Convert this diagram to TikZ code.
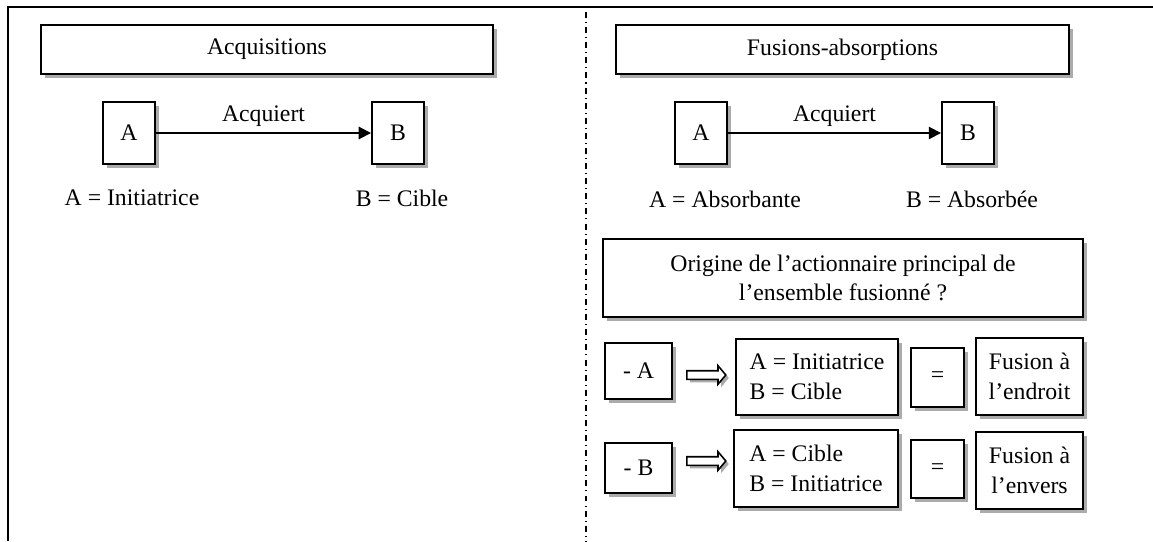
\documentclass[tikz,border=0pt]{standalone}
\usepackage{fontspec}
\setmainfont{Liberation Serif}
\usetikzlibrary{arrows.meta, positioning, shadows, shapes.arrows}

\begin{document}
\begin{tikzpicture}[
		x=0.02cm, y=-0.02cm,
		box/.style = {draw, line width=1.1pt, fill=white, rectangle, inner sep=2pt,
			drop shadow={shadow xshift=0.075cm, shadow yshift=-0.075cm, fill=black!33, opacity=1},
			font=\fontsize{13.5}{17}\selectfont},
		txt/.style = {font=\fontsize{13.5}{17}\selectfont},
		bigarrow/.style = {single arrow, draw, line width=0.9pt, fill=white,
			inner xsep=0pt, inner ysep=0.07cm, minimum height=0.78cm,
			single arrow head extend=0.1cm, single arrow tip angle=100,
			drop shadow={shadow xshift=0.06cm, shadow yshift=-0.06cm, fill=black!33, opacity=1}}
	]

	\useasboundingbox (0,0) rectangle (1153,541);

	% cadre
	\draw[line width=1.1pt] (8,541) -- (8,7) -- (1153,7);
	\draw[line width=0.8pt, dash pattern=on 3.4pt off 2.3pt on 0.6pt off 2.3pt] (586,12) -- (586,541);

	% acquisitions
	\node[box, minimum width=9.04cm, minimum height=0.98cm] (acq) at (267,49.5) {Acquisitions};
	\node[box, minimum width=1.04cm, minimum height=1.24cm] (aL) at (129,133) {A};
	\node[box, minimum width=1.04cm, minimum height=1.24cm] (bL) at (398,133) {B};
	\draw[line width=1.1pt, -{Triangle[length=7pt, width=7pt]}] (aL) -- (bL) node[txt, midway, above] {Acquiert};
	\node[txt] (initL) at (132,198) {A = Initiatrice};
	\node[txt] (cibleL) at (402,198) {B = Cible};

	% fusions-absorptions
	\node[box, minimum width=9.06cm, minimum height=0.98cm] (fus) at (842.5,49.5) {Fusions-absorptions};
	\node[box, minimum width=1.04cm, minimum height=1.24cm] (aR) at (701,133) {A};
	\node[box, minimum width=1.04cm, minimum height=1.24cm] (bR) at (968,133) {B};
	\draw[line width=1.1pt, -{Triangle[length=7pt, width=7pt]}] (aR) -- (bR) node[txt, midway, above] {Acquiert};
	\node[txt] (absR) at (725,199) {A = Absorbante};
	\node[txt] (absbR) at (972,199) {B = Absorbée};

	% origine
	\node[box, minimum width=9.6cm, minimum height=1.56cm, align=center] (orig) at (843,278)
		{Origine de l’actionnaire principal de\\l’ensemble fusionné ?};

	\node[box, minimum width=1.34cm, minimum height=1.12cm] (mA) at (638.5,371) {- A};
	\node[bigarrow] (arrA) at (704.5,375) {};
	\node[box, minimum width=3.24cm, minimum height=1.52cm, align=left] (rA) at (817,377)
		{A = Initiatrice\\B = Cible};
	\node[box, minimum width=1.06cm, minimum height=1.18cm] (eqA) at (937.5,377.5) {=};
	\node[box, minimum width=2.14cm, minimum height=1.54cm, align=center] (fA) at (1029.5,376.5)
		{Fusion à\\l’endroit};

	\node[box, minimum width=1.34cm, minimum height=1.0cm] (mB) at (638.5,468) {- B};
	\node[bigarrow] (arrB) at (704.5,461) {};
	\node[box, minimum width=3.28cm, minimum height=1.54cm, align=left] (rB) at (816,468.5)
		{A = Cible\\B = Initiatrice};
	\node[box, minimum width=1.06cm, minimum height=1.16cm] (eqB) at (937.5,469) {=};
	\node[box, minimum width=2.14cm, minimum height=1.54cm, align=center] (fB) at (1029.5,470.5)
		{Fusion à\\l’envers};
\end{tikzpicture}
\end{document}
